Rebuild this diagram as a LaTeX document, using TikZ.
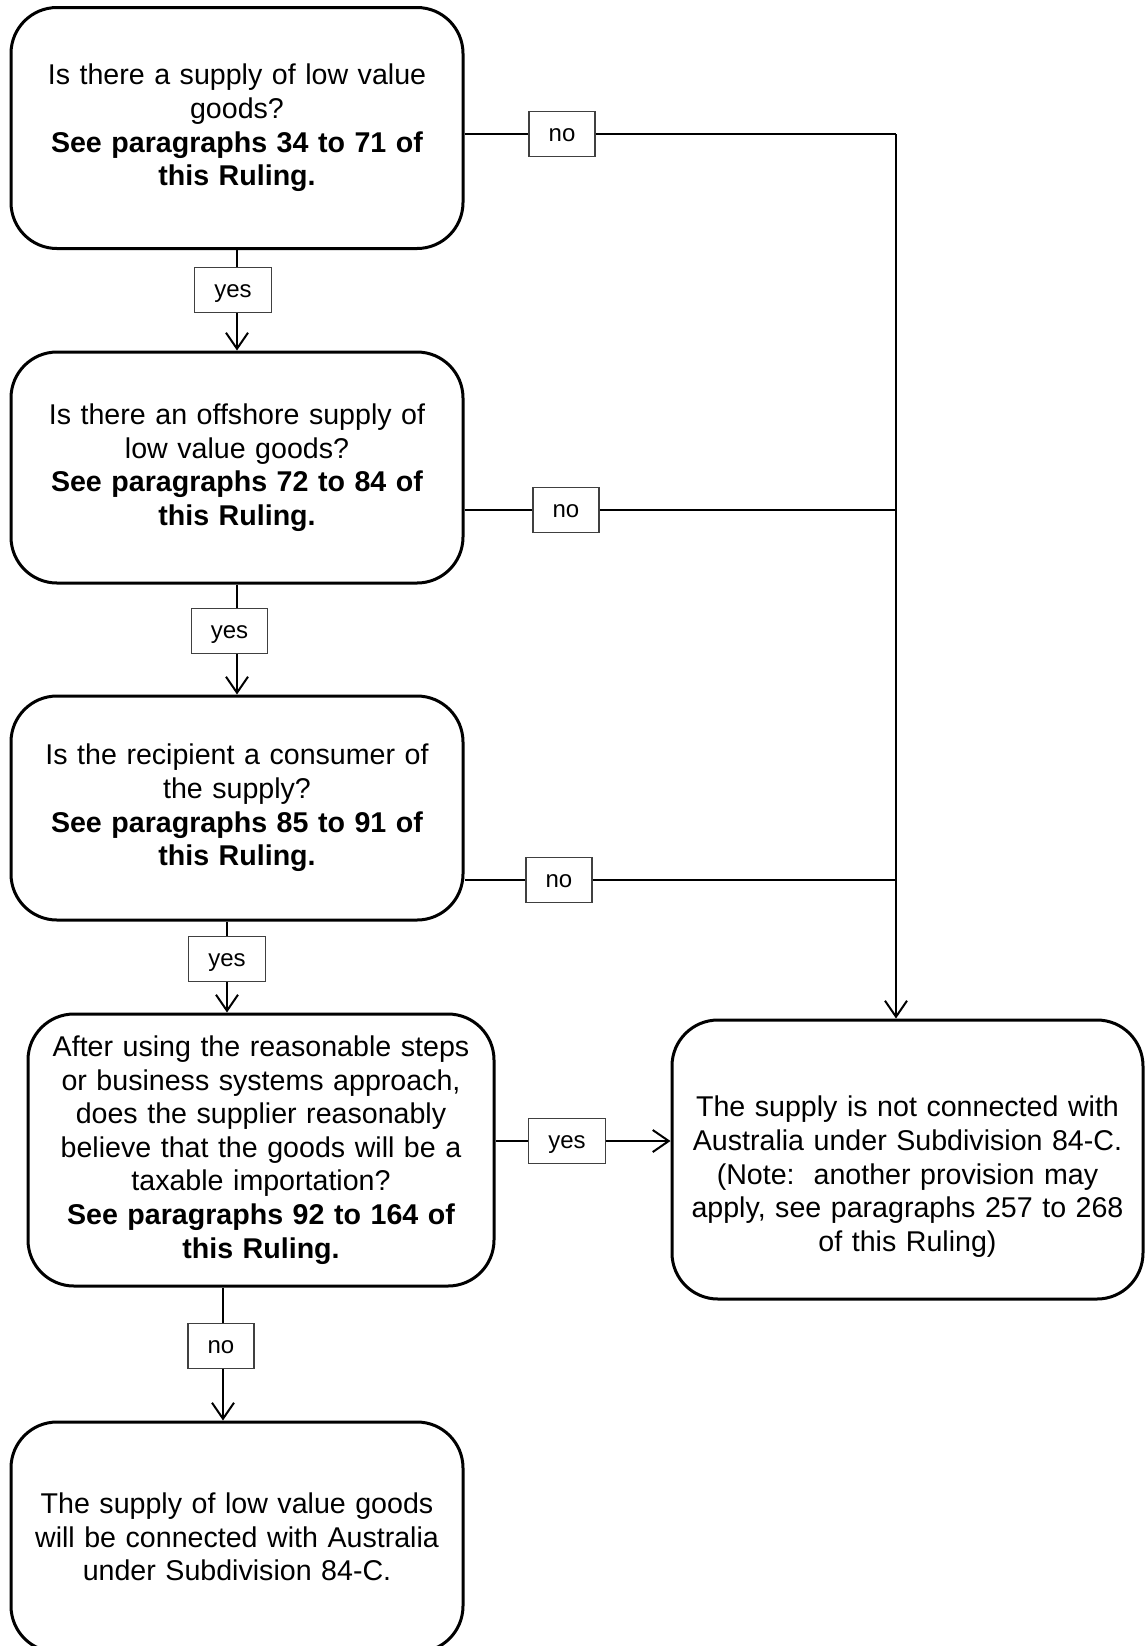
\documentclass[tikz,border=0pt]{standalone}
\usepackage{fontspec}
\setmainfont{Liberation Sans}
\usetikzlibrary{arrows.meta}
\usetikzlibrary{positioning}

\tikzset{
  qbox/.style={draw, line width=1.5pt, rounded corners=23pt, align=center,
    inner sep=0pt, font=\fontsize{14.3}{16.8}\selectfont},
  lbl/.style={draw=black!75, line width=0.6pt, fill=white, minimum height=22.5pt,
    inner xsep=9.8pt, inner ysep=0pt, text height=7pt, text depth=0pt,
    font=\fontsize{12}{14}\selectfont},
  conn/.style={line width=1pt},
  arr/.style={conn, -{Straight Barb[length=8pt,width=11pt,line width=1pt]}}
}

\begin{document}
\begin{tikzpicture}[x=0.5pt,y=-0.5pt]
\useasboundingbox (0,0) rectangle (1145,1646);

% question boxes
\node[qbox, minimum width=226pt, minimum height=120.5pt, text width=215pt] (q1) at (237,128)
  {Is there a supply of low value\\goods?\\\textbf{See paragraphs 34 to 71 of}\\\textbf{this Ruling.}};
\node[qbox, minimum width=226pt, minimum height=115.5pt, text width=215pt] (q2) at (237,467.5)
  {Is there an offshore supply of\\low value goods?\\\textbf{See paragraphs 72 to 84 of}\\\textbf{this Ruling.}};
\node[qbox, minimum width=226pt, minimum height=112pt, text width=215pt] (q3) at (237,808)
  {Is the recipient a consumer of\\the supply?\\\textbf{See paragraphs 85 to 91 of}\\\textbf{this Ruling.}};
\node[qbox, minimum width=233pt, minimum height=136pt, text width=226pt] (q4) at (261,1150)
  {After using the reasonable steps\\or business systems approach,\\does the supplier reasonably\\believe that the goods will be a\\taxable importation?\\\textbf{See paragraphs 92 to 164 of}\\\textbf{this Ruling.}};

% outcomes
\node[qbox, minimum width=235.5pt, minimum height=139.5pt, text width=230pt] (out1) at (907.5,1159.5)
  {\rule{0pt}{27.5pt}The supply is not connected with\\Australia under Subdivision 84-C.\\(Note:\ \ another provision may\\apply, see paragraphs 257 to 268\\of this Ruling)};
\node[qbox, minimum width=226pt, minimum height=115pt, text width=215pt] (out2) at (237,1537)
  {The supply of low value goods\\will be connected with Australia\\under Subdivision 84-C.};

% labels
\node[lbl] (y1) at (233,290) {yes};
\node[lbl] (y2) at (229.5,631) {yes};
\node[lbl] (y3) at (227,959) {yes};
\node[lbl] (y4) at (567,1141) {yes};
\node[lbl] (n1) at (562,134) {no};
\node[lbl] (n2) at (566,510) {no};
\node[lbl] (n3) at (559,880) {no};
\node[lbl] (n4) at (221,1346) {no};
\coordinate (bus) at (896,134);
\coordinate (down3) at (227,920);
\coordinate (down4) at (223,1287);

% down the yes path
\draw[conn] (q1.south) -- (q1.south |- y1.north);
\draw[arr] (q1.south |- y1.south) -- (q2.north);
\draw[conn] (q2.south) -- (q2.south |- y2.north);
\draw[arr] (q2.south |- y2.south) -- (q3.north);
\draw[conn] (down3 |- q3.south) -- (down3 |- y3.north);
\draw[arr] (down3 |- y3.south) -- (down3 |- q4.north);
\draw[conn] (down4 |- q4.south) -- (down4 |- n4.north);
\draw[arr] (down4 |- n4.south) -- (down4 |- out2.north);

% the no branches
\draw[conn] (q1.east |- n1) -- (n1.west);
\draw[conn] (n1.east) -- (bus);
\draw[arr] (bus) -- (bus |- out1.north);
\draw[conn] (q2.east |- n2) -- (n2.west);
\draw[conn] (n2.east) -- (n2 -| bus);
\draw[conn] (q3.east |- n3) -- (n3.west);
\draw[conn] (n3.east) -- (n3 -| bus);
\draw[conn] (q4.east |- y4) -- (y4.west);
\draw[arr] (y4.east) -- (y4 -| out1.west);
\end{tikzpicture}
\end{document}
